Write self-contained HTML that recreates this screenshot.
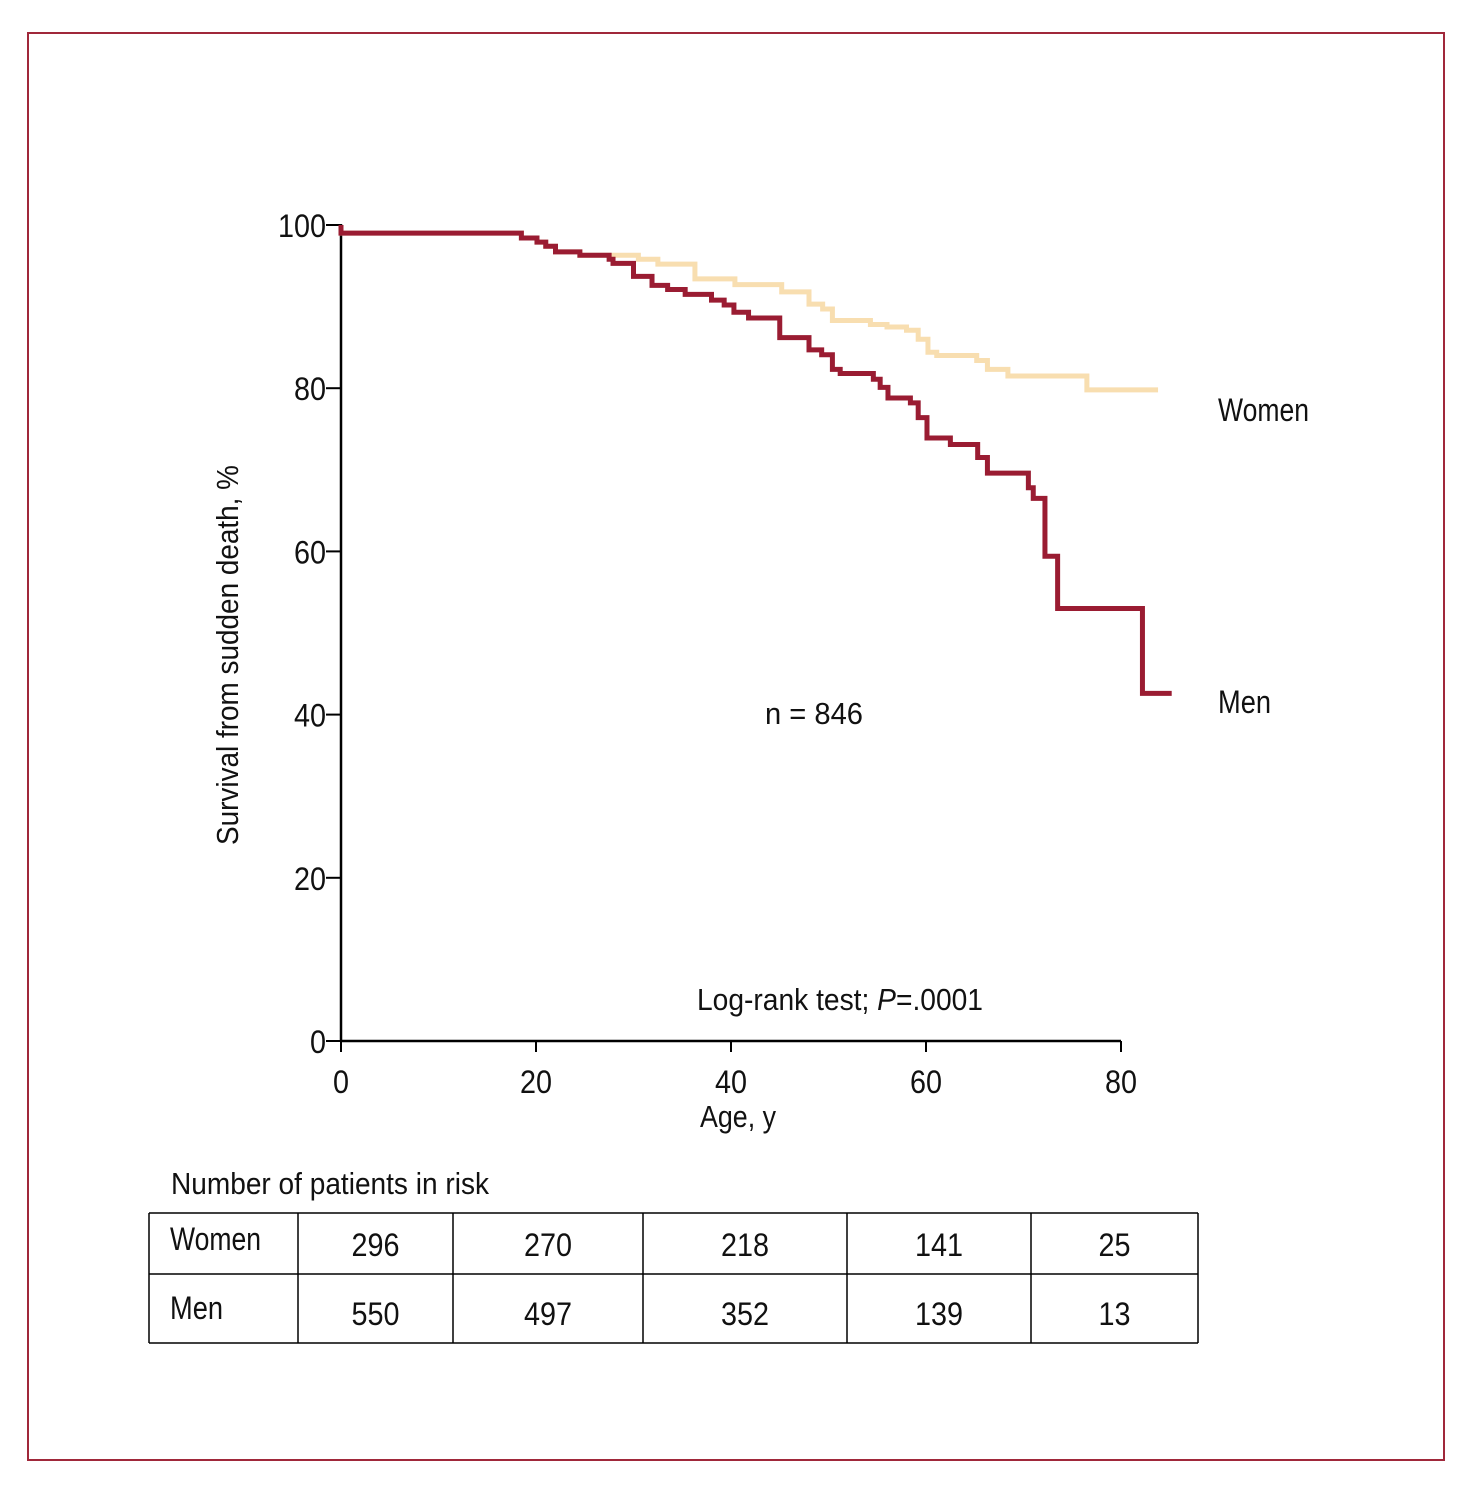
<!DOCTYPE html>
<html><head><meta charset="utf-8"><style>
html,body{margin:0;padding:0;background:#fff;}
svg{display:block;}
text{font-family:"Liberation Sans Narrow","Liberation Sans",sans-serif;fill:#111;}
</style></head><body>
<svg id="chart" width="1470" height="1491" viewBox="0 0 1470 1491" xmlns="http://www.w3.org/2000/svg">
<rect x="28" y="33" width="1416" height="1427" fill="none" stroke="#a0283a" stroke-width="2"/>
<g id="axes"></g>
<g id="series"></g>
<text transform="translate(238,655) rotate(-90)" text-anchor="middle" font-size="31" textLength="380" lengthAdjust="spacingAndGlyphs">Survival from sudden death, %</text>
<text x="700" y="1127" font-size="31" textLength="76" lengthAdjust="spacingAndGlyphs">Age, y</text>
<text x="1218" y="421" font-size="32" textLength="91" lengthAdjust="spacingAndGlyphs">Women</text>
<text x="1218" y="713" font-size="32" textLength="53" lengthAdjust="spacingAndGlyphs">Men</text>
<text x="765" y="724" font-size="31" textLength="98" lengthAdjust="spacingAndGlyphs">n = 846</text>
<text x="697" y="1010" font-size="31" textLength="286" lengthAdjust="spacingAndGlyphs">Log-rank test; <tspan font-style="italic">P</tspan>=.0001</text>
<text x="171" y="1194" font-size="31" textLength="318" lengthAdjust="spacingAndGlyphs">Number of patients in risk</text>
<g id="table"></g>
</svg>
<script>
const xTicks=[0,20,40,60,80];
const yTicks=[0,20,40,60,80,100];
const womenAges=[0,18.5,20.1,21,22,24.5,30.5,32.5,36.3,40.4,45.2,48,49.4,50.4,54.3,56,58,59.2,60.2,61.1,65.2,66.3,68.4,76.5];
const womenSurv=[99.0,98.4,97.9,97.4,96.7,96.3,95.8,95.2,93.4,92.7,91.8,90.3,89.7,88.3,87.8,87.5,87.1,86.0,84.4,84.0,83.4,82.3,81.5,79.8];
const womenEnd=83.8;
const menAges=[0,18.5,20.1,21,22,24.5,27.5,27.9,30,31.9,33.5,35.3,38,39.3,40.3,41.8,45,48,49.3,50.4,51.2,54.6,55.3,56.1,58.4,59.2,60.1,62.5,65.3,66.3,70.5,71,72.2,73.5,82.2];
const menSurv=[99.0,98.4,97.9,97.4,96.7,96.3,95.8,95.3,93.7,92.6,92.1,91.5,90.8,90.2,89.3,88.6,86.2,84.7,84.1,82.3,81.8,81.1,80.1,78.8,78.2,76.4,73.9,73.1,71.5,69.6,67.8,66.5,59.4,53.0,42.6];
const menEnd=85.2;
const tableRows=["Women","Men"];
const womenRisk=[296,270,218,141,25];
const menRisk=[550,497,352,139,13];

const NS="http://www.w3.org/2000/svg";
const X=v=>341+v*9.75;
const Y=v=>1041-v*8.16;
function mk(tag,attrs,parent,txt){const e=document.createElementNS(NS,tag);for(const k in attrs)e.setAttribute(k,attrs[k]);if(txt!==undefined)e.textContent=txt;parent.appendChild(e);return e;}
const axes=document.getElementById('axes');
let e=mk('line',{x1:341,y1:Y(100)-1,x2:341,y2:1042,stroke:'#000','stroke-width':2.5},axes);


e=mk('line',{x1:340,y1:1041,x2:X(80),y2:1041,stroke:'#000','stroke-width':2.5},axes);


yTicks.forEach(t=>{
 const l=mk('line',{x1:326,y1:Y(t),x2:341,y2:Y(t),stroke:'#000','stroke-width':2},axes);
 
 
 const s=String(t);
 const tx=mk('text',{x:326,y:Y(t)+12,'text-anchor':'end','font-size':32,textLength:s.length*16,lengthAdjust:'spacingAndGlyphs'},axes,s);
 
 
});
xTicks.forEach(t=>{
 const l=mk('line',{x1:X(t),y1:1041,x2:X(t),y2:1052,stroke:'#000','stroke-width':2},axes);
 
 
 const s=String(t);
 const tx=mk('text',{x:X(t),y:1093,'text-anchor':'middle','font-size':32,textLength:s.length*16,lengthAdjust:'spacingAndGlyphs'},axes,s);
 
 
});
function stepPath(ages,surv,end){
 let d='M'+X(ages[0])+' '+Y(100)+' L'+X(ages[0])+' '+Y(surv[0]);
 for(let i=1;i<ages.length;i++){d+=' L'+X(ages[i])+' '+Y(surv[i-1])+' L'+X(ages[i])+' '+Y(surv[i]);}
 d+=' L'+X(end)+' '+Y(surv[surv.length-1]);
 return d;
}
const series=document.getElementById('series');
const w=mk('path',{d:stepPath(womenAges,womenSurv,womenEnd),fill:'none',stroke:'#f8deb0','stroke-width':5},series);


const m=mk('path',{d:stepPath(menAges,menSurv,menEnd),fill:'none',stroke:'#9a1c32','stroke-width':5},series);



const tb=document.getElementById('table');
const cols=[149,298,453,643,847,1031,1198];
const rowsY=[1213,1274,1343];
rowsY.forEach(y=>{const l=mk('line',{x1:149,y1:y,x2:1198,y2:y,stroke:'#000','stroke-width':1.5},tb);
 
 });
cols.forEach(x=>{const l=mk('line',{x1:x,y1:1213,x2:x,y2:1343,stroke:'#000','stroke-width':1.5},tb);
 
 });
[womenRisk,menRisk].forEach((vals,r)=>{
 const cy=r===0?1253:1322;
 const lab=mk('text',{x:170,y:cy-3,'font-size':32,textLength:r===0?91:53,lengthAdjust:'spacingAndGlyphs'},tb,tableRows[r]);
 
 
 vals.forEach((v,i)=>{
  const s=String(v);
  const c=mk('text',{x:(cols[i+1]+cols[i+2])/2,y:cy+3,'text-anchor':'middle','font-size':32,textLength:s.length*16,lengthAdjust:'spacingAndGlyphs'},tb,s);
  
  
 });
});
</script>
</body></html>
